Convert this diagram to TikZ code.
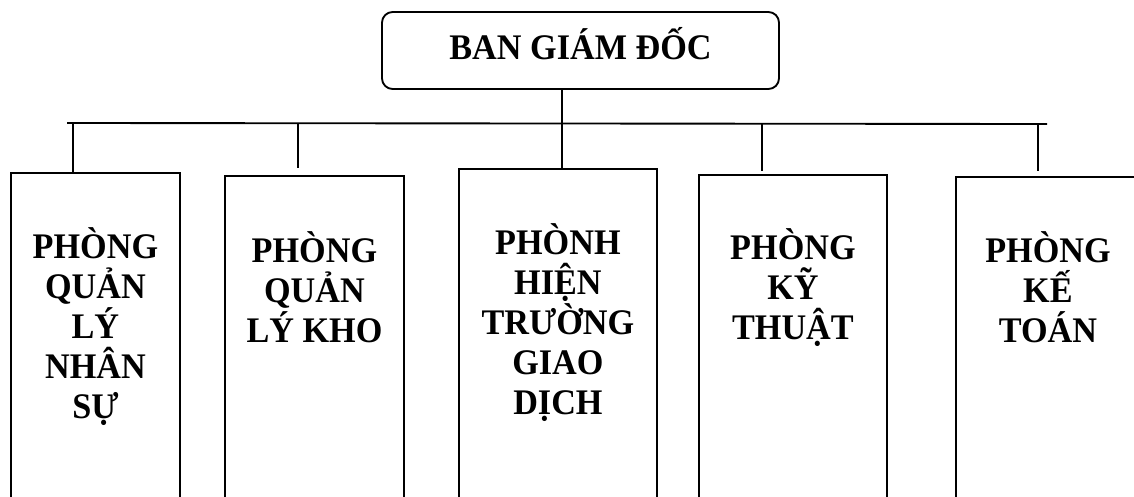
\documentclass[tikz,border=0pt]{standalone}
\usepackage{fontspec}
\setmainfont{Liberation Serif}[FakeStretch=0.95]
\begin{document}
\begin{tikzpicture}[x=0.75pt,y=-0.75pt,
  line/.style={line width=1.4pt},
  dept/.style={draw,line width=1.4pt,rectangle,inner sep=0pt,anchor=north west,minimum height=260pt},
  lbl/.style={font=\bfseries\fontsize{27}{30}\selectfont,align=center,inner sep=0pt,anchor=base},
  head/.style={draw,line width=1.4pt,rounded corners=8pt,minimum width=297.75pt,minimum height=57.75pt,
     font=\bfseries\fontsize{27}{30}\selectfont,text height=15.5pt,text depth=2.75pt,inner sep=0pt}]
\useasboundingbox (0,0) rectangle (1134,496);
\clip (0,0) rectangle (1134,496);
% head
\node[head] (top) at (580.5,50.5) {BAN GIÁM ĐỐC};
% departments
\node[dept,minimum width=126.75pt] (b1) at (10,172) {};
\node[dept,minimum width=134.25pt] (b2) at (224,175) {};
\node[dept,minimum width=148.5pt] (b3) at (458,168) {};
\node[dept,minimum width=141pt] (b4) at (698,174) {};
\node[dept,minimum width=138pt] (b5) at (955,176) {};
% labels (anchor base = last line)
\node[lbl] (t1) at ([yshift=-184.5pt]b1.north) {PHÒNG\\QUẢN\\LÝ\\NHÂN\\SỰ};
\node[lbl] (t2) at ([yshift=-125.25pt]b2.north) {PHÒNG\\QUẢN\\LÝ KHO};
\node[lbl] (t3) at ([yshift=-184.5pt]b3.north) {PHÒNH\\HIỆN\\TRƯỜNG\\GIAO\\DỊCH};
\node[lbl] (t4) at ([yshift=-123.75pt]b4.north) {PHÒNG\\KỸ\\THUẬT};
\node[lbl] (t5) at ([yshift=-124.5pt]b5.north) {PHÒNG\\KẾ\\TOÁN};
% bus
\coordinate (busL) at (67,123);
\coordinate (busR) at (1047,124);
\coordinate (j1) at (73,123);
\coordinate (j2) at (298,123);
\coordinate (j3) at (562,123);
\coordinate (j4) at (762,123.5);
\coordinate (j5) at (1038,124);
\coordinate (e1) at (73,172);
\coordinate (e2) at (298,168);
\coordinate (e4) at (762,171);
\coordinate (e5) at (1038,171);
\draw[line] (busL) -- (busR);
\draw[line] (top.south -| j3) -- (j3) -- (b3.north -| j3);
\draw[line] (j1) -- (e1);
\draw[line] (j2) -- (e2);
\draw[line] (j4) -- (e4);
\draw[line] (j5) -- (e5);
\end{tikzpicture}
\end{document}
